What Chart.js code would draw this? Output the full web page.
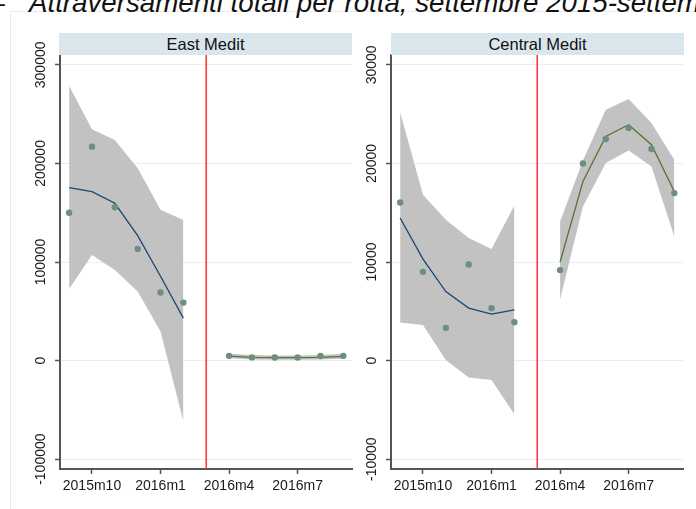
<!DOCTYPE html>
<html><head><meta charset="utf-8">
<script src="https://cdn.jsdelivr.net/npm/chart.js@4/dist/chart.umd.min.js"></script>
<style>
html,body{margin:0;padding:0;background:#fff;width:696px;height:509px;overflow:hidden;position:relative;font-family:"Liberation Sans",Arial,sans-serif;}
.frame{position:absolute;left:10px;top:11px;width:700px;height:520px;border:1px solid #e6edf1;}
.title{position:absolute;top:-11px;font-style:italic;font-size:27.7px;white-space:nowrap;color:#111;line-height:28px;}
.strip{position:absolute;top:33px;height:22px;background:#d9e6ec;font-size:16.5px;line-height:22px;text-align:center;color:#111;}
canvas{position:absolute;top:0;}
</style></head><body>
<div class="frame"></div>
<div class="title" style="right:691px;">Figura 1 –</div>
<div class="title" style="left:29px;">Attraversamenti totali per rotta, settembre 2015-settembre 2016</div>
<canvas id="east" width="360" height="509" style="left:0px;"></canvas>
<canvas id="central" width="360" height="509" style="left:331px;"></canvas>
<div class="strip" style="left:59px;width:293px;">East Medit</div>
<div class="strip" style="left:391px;width:293px;">Central Medit</div>
<script>
// ---- data ----
const monthsBefore = ['2015m9','2015m10','2015m11','2015m12','2016m1','2016m2'];
const monthsAfter  = ['2016m4','2016m5','2016m6','2016m7','2016m8','2016m9'];
const breakMonth = '2016m3';
const xTickLabels = ['2015m10','2016m1','2016m4','2016m7'];

const eastYTicks = [-100000, 0, 100000, 200000, 300000];
const eastBefore      = [150000, 217000, 155600, 113300, 69000, 58800];
const eastBeforeFit   = [175500, 171400, 159600, 126800, 85500, 43000];
const eastBeforeUpper = [278600, 234700, 223800, 195200, 152900, 142700];
const eastBeforeLower = [72700, 107200, 92000, 70100, 29400, -61900];
const eastAfter       = [4800, 3200, 3100, 3100, 4600, 4800];
const eastAfterFit    = [4500, 3300, 2900, 2900, 3300, 4300];
const eastAfterUpper  = [6800, 5600, 5200, 5200, 5700, 6900];
const eastAfterLower  = [2300, 1200, 900, 900, 1200, 1900];

const centralYTicks = [-10000, 0, 10000, 20000, 30000];
const centralBefore      = [16040, 9000, 3320, 9750, 5320, 3900];
const centralBeforeFit   = [14460, 10300, 7000, 5320, 4710, 5150];
const centralBeforeUpper = [25180, 16820, 14280, 12430, 11310, 15740];
const centralBeforeLower = [3860, 3620, 70, -1720, -1960, -5440];
const centralAfter       = [9180, 20000, 22480, 23600, 21460, 16990];
const centralAfterFit    = [10000, 18170, 22740, 23930, 21900, 17160];
const centralAfterUpper  = [14110, 20300, 25450, 26540, 24100, 20380];
const centralAfterLower  = [6160, 15630, 20040, 21320, 19700, 12590];

// ---- helpers ----
function monthIndex(s){ const [y,m] = s.split('m').map(Number); return (y-2015)*12 + m - 9; }
function pts(months, vals){ return months.map((m,i)=>({x:monthIndex(m), y:vals[i]})); }

const AX = '#555';
function makePanel(id, yMin, yMax, yTicks, d, labelPad){
  const xb = breakMonth;
  const datasets = [
    {data: pts(monthsBefore, d.before), pointRadius:3.2, pointBackgroundColor:'#6e8e84', pointBorderWidth:0, showLine:false, order:0},
    {data: pts(monthsAfter, d.after), pointRadius:3.2, pointBackgroundColor:'#6e8e84', pointBorderWidth:0, showLine:false, order:0},
    {data: pts(monthsBefore, d.beforeFit), showLine:true, borderColor:'#1a476f', borderWidth:1.3, pointRadius:0, tension:0, order:1},
    {data: pts(monthsAfter, d.afterFit), showLine:true, borderColor:'#55752f', borderWidth:1.3, pointRadius:0, tension:0, order:1},
    {data: [{x:monthIndex(xb), y:yMin},{x:monthIndex(xb), y:yMax}], showLine:true, borderColor:'#ff3a3a', borderWidth:1.6, pointRadius:0, order:2},
    {data: pts(monthsBefore, d.beforeUpper), showLine:true, borderWidth:0, pointRadius:0, fill:'+1', backgroundColor:'#c2c2c2', order:3},
    {data: pts(monthsBefore, d.beforeLower), showLine:true, borderWidth:0, pointRadius:0, fill:false, order:4},
    {data: pts(monthsAfter, d.afterUpper), showLine:true, borderWidth:0, pointRadius:0, fill:'+1', backgroundColor:'#c2c2c2', order:3},
    {data: pts(monthsAfter, d.afterLower), showLine:true, borderWidth:0, pointRadius:0, fill:false, order:4}
  ];
  return new Chart(document.getElementById(id), {
    type:'scatter',
    data:{datasets},
    options:{
      responsive:false, animation:false, devicePixelRatio:1,
      layout:{padding:{top:55, right:8, left:0, bottom:0}},
      plugins:{legend:{display:false}, tooltip:{enabled:false}},
      scales:{
        x:{type:'linear', min:-0.4, max:12.38,
          afterBuildTicks:s=>{ s.ticks = xTickLabels.map(l=>({value:monthIndex(l)})); },
          afterFit:s=>{ s.height = 40; },
          ticks:{autoSkip:false, maxRotation:0, minRotation:0, padding:4, color:'#1a1a1a',
            font:{family:'"Liberation Sans", Arial', size:14},
            callback:(v)=>{ const l = xTickLabels.find(t=>monthIndex(t)===v); return l || ''; }},
          grid:{display:true, drawOnChartArea:false, drawTicks:true, tickLength:5, tickColor:AX, tickWidth:1.5},
          border:{display:true, color:AX, width:2}
        },
        y:{type:'linear', min:yMin, max:yMax,
          afterBuildTicks:s=>{ s.ticks = yTicks.map(v=>({value:v})); },
          afterFit:s=>{ s.width = 60; },
          ticks:{autoSkip:false, minRotation:90, maxRotation:90, crossAlign:'center', padding:labelPad, color:'#1a1a1a',
            font:{family:'"Liberation Sans", Arial', size:14},
            callback:(v)=>String(v)},
          grid:{display:true, color:'#e8eff1', lineWidth:1, drawTicks:true, tickLength:5, tickColor:AX, tickWidth:1.5},
          border:{display:true, color:AX, width:2}
        }
      }
    }
  });
}

makePanel('east', -110000, 310000, eastYTicks, {
  before:eastBefore, beforeFit:eastBeforeFit, beforeUpper:eastBeforeUpper, beforeLower:eastBeforeLower,
  after:eastAfter, afterFit:eastAfterFit, afterUpper:eastAfterUpper, afterLower:eastAfterLower
}, -11.5);
makePanel('central', -11000, 31000, centralYTicks, {
  before:centralBefore, beforeFit:centralBeforeFit, beforeUpper:centralBeforeUpper, beforeLower:centralBeforeLower,
  after:centralAfter, afterFit:centralAfterFit, afterUpper:centralAfterUpper, afterLower:centralAfterLower
}, -7.7);
</script>
</body></html>
